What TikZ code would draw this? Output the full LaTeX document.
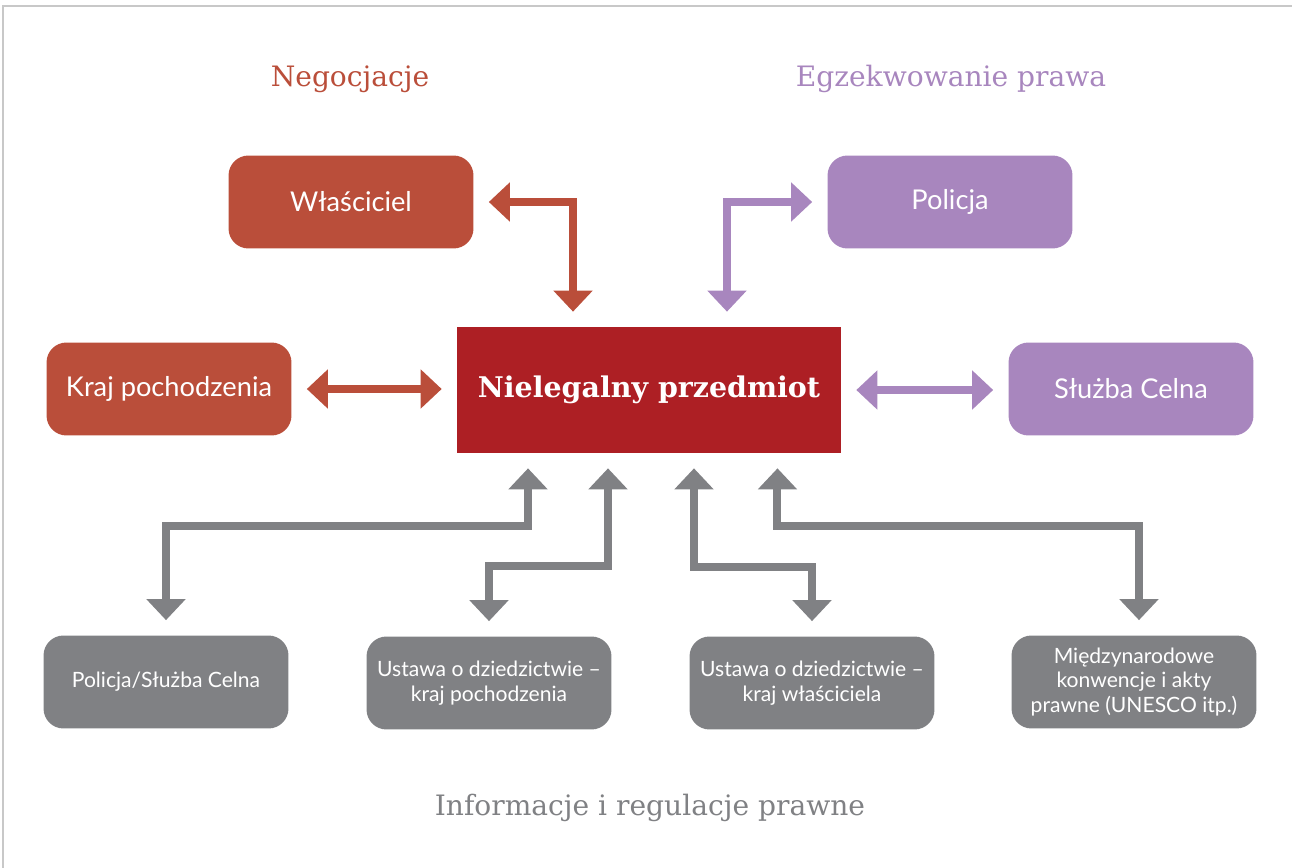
\documentclass[tikz,border=0pt]{standalone}
\usepackage{fontspec}
\setmainfont{DejaVu Serif}
\newfontfamily\boxfont{Lato}
\usetikzlibrary{arrows.meta}

\definecolor{negred}{HTML}{BA4E3A}
\definecolor{lawpurple}{HTML}{A886BE}
\definecolor{itemred}{HTML}{AD1F24}
\definecolor{infogray}{HTML}{808184}
\definecolor{framegray}{HTML}{C8C8C8}

\tikzset{
  box/.style={rounded corners=0.4cm, minimum width=4.9cm, minimum height=1.86cm,
    inner sep=0pt, align=center, text=white,
    font=\boxfont\fontsize{15.5}{18}\selectfont},
  negbox/.style={box, fill=negred},
  lawbox/.style={box, fill=lawpurple},
  infobox/.style={box, fill=infogray, font=\boxfont\fontsize{12}{14}\selectfont},
  itembox/.style={minimum width=7.68cm, minimum height=2.52cm, inner sep=0pt,
    fill=itemred, text=white, font=\bfseries\fontsize{16.2}{19}\selectfont},
  heading/.style={font=\fontsize{16}{19}\selectfont},
  link/.style={line width=0.16cm, shorten <=0.3cm, shorten >=0.3cm,
    {Triangle[length=0.42cm,width=0.76cm]}-{Triangle[length=0.42cm,width=0.76cm]}}
}

\begin{document}
\begin{tikzpicture}[x=0.02cm, y=-0.02cm]

    \useasboundingbox (0,0) rectangle (1292,868);
    \draw[framegray, line width=0.03cm] (3,868) -- (3,6) -- (1292,6);

    % Headings
    \node[heading, text=negred] (negtitle) at (350,79) {Negocjacje};
    \node[heading, text=lawpurple] (lawtitle) at (951,79) {Egzekwowanie prawa};
    \node[heading, text=infogray] (infotitle) at (650,808) {Informacje i regulacje prawne};

    % Central item
    \node[itembox] (item) at (649,390) {Nielegalny przedmiot};

    % Negotiation and enforcement
    \node[negbox] (owner) at (351,202) {Właściciel};
    \node[negbox] (origin) at (169,389) {Kraj pochodzenia};
    \node[lawbox] (police) at (950,202) {Policja};
    \node[lawbox] (customs) at (1131,389) {Służba Celna};

    % Information and legal rules
    \node[infobox] (info1) at (166,682) {Policja/Służba Celna};
    \node[infobox] (info2) at (489,683) {Ustawa o dziedzictwie –\\kraj pochodzenia};
    \node[infobox] (info3) at (812,683) {Ustawa o dziedzictwie –\\kraj właściciela};
    \node[infobox] (info4) at (1134,682) {Międzynarodowe\\konwencje i akty\\prawne (UNESCO itp.)};

    % Links to the item
    \draw[link, negred] (owner.east) -| ([xshift=-1.52cm]item.north);
    \draw[link, negred] (origin.east) -- (origin.east -| item.west);
    \draw[link, lawpurple] (police.west) -| ([xshift=1.56cm]item.north);
    \draw[link, lawpurple] (item.east) -- (item.east -| customs.west);

    \draw[link, infogray] ([xshift=-2.42cm]item.south) -- ++(0,73) -| (info1.north);
    \draw[link, infogray] ([xshift=-0.82cm]item.south) -- ++(0,113) -| (info2.north);
    \draw[link, infogray] ([xshift=0.9cm]item.south) -- ++(0,114) -| (info3.north);
    \draw[link, infogray] ([xshift=2.57cm]item.south) -- ++(0,73) -| ([xshift=0.1cm]info4.north);

\end{tikzpicture}
\end{document}
